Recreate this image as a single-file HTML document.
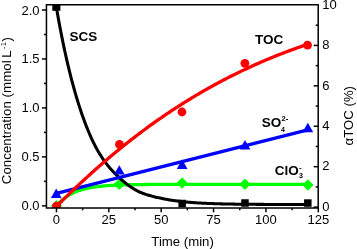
<!DOCTYPE html><html><head><meta charset="utf-8"><style>html,body{margin:0;padding:0;background:#fff;}svg{display:block;}text{font-family:"Liberation Sans",sans-serif;font-size:13px;fill:#000;}</style></head><body><div style="will-change:transform;width:357px;height:249px;">
<svg width="357" height="249" viewBox="0 0 357 249">
<rect width="357" height="249" fill="#fff"/>
<defs><clipPath id="c"><rect x="46.45" y="4.75" width="271.75" height="203.25"/></clipPath></defs>
<g clip-path="url(#c)" fill="none" stroke-width="3.3" stroke-linejoin="round">
<path d="M56.45,205.85 L57.50,204.65 L58.54,203.51 L59.59,202.44 L60.64,201.43 L61.69,200.48 L62.73,199.58 L63.78,198.73 L64.83,197.92 L65.88,197.16 L66.92,196.45 L67.97,195.77 L69.02,195.13 L70.07,194.53 L71.11,193.96 L72.16,193.43 L73.21,192.92 L74.26,192.44 L75.30,191.99 L76.35,191.56 L77.40,191.16 L78.45,190.78 L79.49,190.42 L80.54,190.08 L81.59,189.76 L82.64,189.46 L83.68,189.17 L84.73,188.90 L85.78,188.65 L86.82,188.41 L87.87,188.18 L88.92,187.97 L89.97,187.76 L91.01,187.57 L92.06,187.39 L93.11,187.22 L94.16,187.06 L95.20,186.91 L96.25,186.77 L97.30,186.63 L98.35,186.51 L99.39,186.39 L100.44,186.27 L101.49,186.16 L102.54,186.06 L103.58,185.97 L104.63,185.88 L105.68,185.79 L106.73,185.71 L107.77,185.63 L108.82,185.56 L109.87,185.50 L110.91,185.43 L111.96,185.37 L113.01,185.31 L114.06,185.26 L115.10,185.21 L116.15,185.16 L117.20,185.12 L118.25,185.07 L119.29,185.03 L120.34,184.99 L121.39,184.96 L122.44,184.92 L123.48,184.89 L124.53,184.86 L125.58,184.83 L126.63,184.81 L127.67,184.78 L128.72,184.76 L129.77,184.73 L130.82,184.71 L131.86,184.69 L132.91,184.67 L133.96,184.66 L135.00,184.64 L136.05,184.62 L137.10,184.61 L138.15,184.59 L139.19,184.58 L140.24,184.57 L141.29,184.55 L142.34,184.54 L143.38,184.53 L144.43,184.52 L145.48,184.51 L146.53,184.50 L147.57,184.49 L148.62,184.49 L149.67,184.48 L150.72,184.47 L151.76,184.46 L152.81,184.46 L153.86,184.45 L154.91,184.45 L155.95,184.44 L157.00,184.44 L158.05,184.43 L159.10,184.43 L160.14,184.42 L161.19,184.42 L162.24,184.41 L163.28,184.41 L164.33,184.41 L165.38,184.40 L166.43,184.40 L167.47,184.40 L168.52,184.40 L169.57,184.39 L170.62,184.39 L171.66,184.39 L172.71,184.39 L173.76,184.38 L174.81,184.38 L175.85,184.38 L176.90,184.38 L177.95,184.38 L179.00,184.38 L180.04,184.37 L181.09,184.37 L182.14,184.37 L183.19,184.37 L184.23,184.37 L185.28,184.37 L186.33,184.37 L187.38,184.37 L188.42,184.37 L189.47,184.36 L190.52,184.36 L191.56,184.36 L192.61,184.36 L193.66,184.36 L194.71,184.36 L195.75,184.36 L196.80,184.36 L197.85,184.36 L198.90,184.36 L199.94,184.36 L200.99,184.36 L202.04,184.36 L203.09,184.36 L204.13,184.36 L205.18,184.36 L206.23,184.36 L207.28,184.36 L208.32,184.36 L209.37,184.35 L210.42,184.35 L211.47,184.35 L212.51,184.35 L213.56,184.35 L214.61,184.35 L215.65,184.35 L216.70,184.35 L217.75,184.35 L218.80,184.35 L219.84,184.35 L220.89,184.35 L221.94,184.35 L222.99,184.35 L224.03,184.35 L225.08,184.35 L226.13,184.35 L227.18,184.35 L228.22,184.35 L229.27,184.35 L230.32,184.35 L231.37,184.35 L232.41,184.35 L233.46,184.35 L234.51,184.35 L235.56,184.35 L236.60,184.35 L237.65,184.35 L238.70,184.35 L239.75,184.35 L240.79,184.35 L241.84,184.35 L242.89,184.35 L243.93,184.35 L244.98,184.35 L246.03,184.35 L247.08,184.35 L248.12,184.35 L249.17,184.35 L250.22,184.35 L251.27,184.35 L252.31,184.35 L253.36,184.35 L254.41,184.35 L255.46,184.35 L256.50,184.35 L257.55,184.35 L258.60,184.35 L259.65,184.35 L260.69,184.35 L261.74,184.35 L262.79,184.35 L263.84,184.35 L264.88,184.35 L265.93,184.35 L266.98,184.35 L268.02,184.35 L269.07,184.35 L270.12,184.35 L271.17,184.35 L272.21,184.35 L273.26,184.35 L274.31,184.35 L275.36,184.35 L276.40,184.35 L277.45,184.35 L278.50,184.35 L279.55,184.35 L280.59,184.35 L281.64,184.35 L282.69,184.35 L283.74,184.35 L284.78,184.35 L285.83,184.35 L286.88,184.35 L287.93,184.35 L288.97,184.35 L290.02,184.35 L291.07,184.35 L292.12,184.35 L293.16,184.35 L294.21,184.35 L295.26,184.35 L296.30,184.35 L297.35,184.35 L298.40,184.35 L299.45,184.35 L300.49,184.35 L301.54,184.35 L302.59,184.35 L303.64,184.35 L304.68,184.35 L305.73,184.35 L306.78,184.35 L307.83,184.35" stroke="#00ff00"/>
<path d="M56.45,200.60 L61.60,205.85 L56.45,211.10 L51.30,205.85 Z" fill="#00ff00" stroke="#00ff00" stroke-width="0.9"/>
<path d="M119.29,179.05 L124.44,184.30 L119.29,189.55 L114.14,184.30 Z" fill="#00ff00" stroke="#00ff00" stroke-width="0.9"/>
<path d="M182.14,177.75 L187.29,183.00 L182.14,188.25 L176.99,183.00 Z" fill="#00ff00" stroke="#00ff00" stroke-width="0.9"/>
<path d="M244.98,179.05 L250.13,184.30 L244.98,189.55 L239.83,184.30 Z" fill="#00ff00" stroke="#00ff00" stroke-width="0.9"/>
<path d="M307.83,179.75 L312.98,185.00 L307.83,190.25 L302.68,185.00 Z" fill="#00ff00" stroke="#00ff00" stroke-width="0.9"/>
<path d="M56.45,7.81 L57.50,13.80 L58.54,19.62 L59.59,25.28 L60.64,30.78 L61.69,36.12 L62.73,41.31 L63.78,46.35 L64.83,51.25 L65.88,56.01 L66.92,60.63 L67.97,65.12 L69.02,69.48 L70.07,73.72 L71.11,77.84 L72.16,81.84 L73.21,85.72 L74.26,89.50 L75.30,93.17 L76.35,96.74 L77.40,100.21 L78.45,103.58 L79.49,106.86 L80.54,110.05 L81.59,113.15 L82.64,116.16 L83.68,119.09 L84.73,121.94 L85.78,124.70 L86.82,127.38 L87.87,129.98 L88.92,132.50 L89.97,134.94 L91.01,137.31 L92.06,139.59 L93.11,141.79 L94.16,143.92 L95.20,145.98 L96.25,147.95 L97.30,149.86 L98.35,151.69 L99.39,153.45 L100.44,155.15 L101.49,156.78 L102.54,158.36 L103.58,159.87 L104.63,161.33 L105.68,162.74 L106.73,164.11 L107.77,165.43 L108.82,166.70 L109.87,167.94 L110.91,169.14 L111.96,170.31 L113.01,171.45 L114.06,172.55 L115.10,173.63 L116.15,174.68 L117.20,175.71 L118.25,176.71 L119.29,177.69 L120.34,178.64 L121.39,179.57 L122.44,180.48 L123.48,181.37 L124.53,182.23 L125.58,183.08 L126.63,183.90 L127.67,184.70 L128.72,185.47 L129.77,186.22 L130.82,186.95 L131.86,187.65 L132.91,188.32 L133.96,188.97 L135.00,189.59 L136.05,190.18 L137.10,190.74 L138.15,191.27 L139.19,191.77 L140.24,192.25 L141.29,192.70 L142.34,193.13 L143.38,193.53 L144.43,193.91 L145.48,194.27 L146.53,194.61 L147.57,194.94 L148.62,195.25 L149.67,195.55 L150.72,195.84 L151.76,196.11 L152.81,196.38 L153.86,196.64 L154.91,196.90 L155.95,197.15 L157.00,197.39 L158.05,197.63 L159.10,197.86 L160.14,198.09 L161.19,198.31 L162.24,198.53 L163.28,198.74 L164.33,198.94 L165.38,199.14 L166.43,199.34 L167.47,199.53 L168.52,199.71 L169.57,199.89 L170.62,200.06 L171.66,200.23 L172.71,200.39 L173.76,200.55 L174.81,200.70 L175.85,200.84 L176.90,200.98 L177.95,201.11 L179.00,201.24 L180.04,201.37 L181.09,201.49 L182.14,201.61 L183.19,201.72 L184.23,201.83 L185.28,201.93 L186.33,202.03 L187.38,202.13 L188.42,202.22 L189.47,202.31 L190.52,202.39 L191.56,202.48 L192.61,202.56 L193.66,202.63 L194.71,202.71 L195.75,202.78 L196.80,202.84 L197.85,202.91 L198.90,202.97 L199.94,203.03 L200.99,203.09 L202.04,203.15 L203.09,203.20 L204.13,203.25 L205.18,203.30 L206.23,203.35 L207.28,203.40 L208.32,203.44 L209.37,203.49 L210.42,203.53 L211.47,203.57 L212.51,203.60 L213.56,203.64 L214.61,203.68 L215.65,203.71 L216.70,203.74 L217.75,203.77 L218.80,203.80 L219.84,203.83 L220.89,203.86 L221.94,203.89 L222.99,203.91 L224.03,203.93 L225.08,203.96 L226.13,203.98 L227.18,204.00 L228.22,204.02 L229.27,204.04 L230.32,204.06 L231.37,204.08 L232.41,204.10 L233.46,204.11 L234.51,204.13 L235.56,204.15 L236.60,204.16 L237.65,204.18 L238.70,204.19 L239.75,204.20 L240.79,204.22 L241.84,204.23 L242.89,204.24 L243.93,204.25 L244.98,204.26 L246.03,204.27 L247.08,204.28 L248.12,204.29 L249.17,204.30 L250.22,204.31 L251.27,204.32 L252.31,204.32 L253.36,204.33 L254.41,204.34 L255.46,204.35 L256.50,204.35 L257.55,204.36 L258.60,204.37 L259.65,204.37 L260.69,204.38 L261.74,204.38 L262.79,204.39 L263.84,204.39 L264.88,204.40 L265.93,204.40 L266.98,204.41 L268.02,204.41 L269.07,204.41 L270.12,204.42 L271.17,204.42 L272.21,204.42 L273.26,204.43 L274.31,204.43 L275.36,204.43 L276.40,204.44 L277.45,204.44 L278.50,204.44 L279.55,204.45 L280.59,204.45 L281.64,204.45 L282.69,204.45 L283.74,204.45 L284.78,204.46 L285.83,204.46 L286.88,204.46 L287.93,204.46 L288.97,204.46 L290.02,204.47 L291.07,204.47 L292.12,204.47 L293.16,204.47 L294.21,204.47 L295.26,204.47 L296.30,204.47 L297.35,204.48 L298.40,204.48 L299.45,204.48 L300.49,204.48 L301.54,204.48 L302.59,204.48 L303.64,204.48 L304.68,204.48 L305.73,204.48 L306.78,204.48 L307.83,204.48" stroke="#000" stroke-width="3.05"/>
<rect x="52.3" y="4" width="8.1" height="6.8" fill="#000" stroke="none"/>
<rect x="178.39" y="199.75" width="7.50" height="7.50" fill="#000" stroke="none"/>
<rect x="241.23" y="199.25" width="7.50" height="7.50" fill="#000" stroke="none"/>
<rect x="304.08" y="199.30" width="7.50" height="7.50" fill="#000" stroke="none"/>
<path d="M56.45,193.30 L307.83,129.80" stroke="#0000ff"/>
<path d="M56.24,188.50 L61.64,197.90 L50.84,197.90 Z" fill="#0000ff" stroke="none"/>
<path d="M119.29,165.20 L124.69,174.60 L113.89,174.60 Z" fill="#0000ff" stroke="none"/>
<path d="M182.14,159.60 L187.54,169.00 L176.74,169.00 Z" fill="#0000ff" stroke="none"/>
<path d="M244.98,139.90 L250.38,149.50 L239.58,149.50 Z" fill="#0000ff" stroke="none"/>
<path d="M307.83,122.75 L313.23,132.15 L302.43,132.15 Z" fill="#0000ff" stroke="none"/>
<path d="M56.45,206.40 L57.50,205.36 L58.54,204.32 L59.59,203.28 L60.64,202.25 L61.69,201.22 L62.73,200.19 L63.78,199.16 L64.83,198.14 L65.88,197.12 L66.92,196.10 L67.97,195.08 L69.02,194.07 L70.07,193.06 L71.11,192.06 L72.16,191.05 L73.21,190.05 L74.26,189.06 L75.30,188.06 L76.35,187.07 L77.40,186.08 L78.45,185.10 L79.49,184.12 L80.54,183.14 L81.59,182.16 L82.64,181.19 L83.68,180.22 L84.73,179.26 L85.78,178.30 L86.82,177.34 L87.87,176.38 L88.92,175.43 L89.97,174.48 L91.01,173.53 L92.06,172.59 L93.11,171.65 L94.16,170.72 L95.20,169.78 L96.25,168.85 L97.30,167.93 L98.35,167.01 L99.39,166.09 L100.44,165.17 L101.49,164.26 L102.54,163.35 L103.58,162.44 L104.63,161.54 L105.68,160.64 L106.73,159.75 L107.77,158.86 L108.82,157.97 L109.87,157.08 L110.91,156.20 L111.96,155.32 L113.01,154.45 L114.06,153.57 L115.10,152.71 L116.15,151.84 L117.20,150.98 L118.25,150.12 L119.29,149.26 L120.34,148.41 L121.39,147.56 L122.44,146.72 L123.48,145.88 L124.53,145.04 L125.58,144.20 L126.63,143.37 L127.67,142.54 L128.72,141.72 L129.77,140.90 L130.82,140.08 L131.86,139.26 L132.91,138.45 L133.96,137.64 L135.00,136.84 L136.05,136.04 L137.10,135.24 L138.15,134.44 L139.19,133.65 L140.24,132.86 L141.29,132.07 L142.34,131.29 L143.38,130.51 L144.43,129.74 L145.48,128.96 L146.53,128.20 L147.57,127.43 L148.62,126.67 L149.67,125.91 L150.72,125.15 L151.76,124.40 L152.81,123.65 L153.86,122.90 L154.91,122.16 L155.95,121.41 L157.00,120.68 L158.05,119.94 L159.10,119.21 L160.14,118.48 L161.19,117.76 L162.24,117.04 L163.28,116.32 L164.33,115.60 L165.38,114.89 L166.43,114.18 L167.47,113.48 L168.52,112.77 L169.57,112.07 L170.62,111.38 L171.66,110.68 L172.71,109.99 L173.76,109.30 L174.81,108.62 L175.85,107.94 L176.90,107.26 L177.95,106.58 L179.00,105.91 L180.04,105.24 L181.09,104.58 L182.14,103.91 L183.19,103.25 L184.23,102.60 L185.28,101.94 L186.33,101.29 L187.38,100.64 L188.42,100.00 L189.47,99.36 L190.52,98.72 L191.56,98.08 L192.61,97.45 L193.66,96.82 L194.71,96.19 L195.75,95.56 L196.80,94.94 L197.85,94.32 L198.90,93.71 L199.94,93.09 L200.99,92.48 L202.04,91.88 L203.09,91.27 L204.13,90.67 L205.18,90.07 L206.23,89.48 L207.28,88.88 L208.32,88.29 L209.37,87.71 L210.42,87.12 L211.47,86.54 L212.51,85.96 L213.56,85.39 L214.61,84.81 L215.65,84.24 L216.70,83.68 L217.75,83.11 L218.80,82.55 L219.84,81.99 L220.89,81.43 L221.94,80.88 L222.99,80.33 L224.03,79.78 L225.08,79.24 L226.13,78.69 L227.18,78.15 L228.22,77.62 L229.27,77.08 L230.32,76.55 L231.37,76.02 L232.41,75.50 L233.46,74.97 L234.51,74.45 L235.56,73.93 L236.60,73.42 L237.65,72.90 L238.70,72.39 L239.75,71.89 L240.79,71.38 L241.84,70.88 L242.89,70.38 L243.93,69.88 L244.98,69.39 L246.03,68.90 L247.08,68.41 L248.12,67.92 L249.17,67.44 L250.22,66.95 L251.27,66.47 L252.31,66.00 L253.36,65.52 L254.41,65.05 L255.46,64.58 L256.50,64.12 L257.55,63.65 L258.60,63.19 L259.65,62.73 L260.69,62.28 L261.74,61.82 L262.79,61.37 L263.84,60.92 L264.88,60.48 L265.93,60.04 L266.98,59.59 L268.02,59.16 L269.07,58.72 L270.12,58.28 L271.17,57.85 L272.21,57.42 L273.26,57.00 L274.31,56.57 L275.36,56.15 L276.40,55.73 L277.45,55.32 L278.50,54.90 L279.55,54.49 L280.59,54.08 L281.64,53.67 L282.69,53.27 L283.74,52.86 L284.78,52.46 L285.83,52.07 L286.88,51.67 L287.93,51.28 L288.97,50.89 L290.02,50.50 L291.07,50.11 L292.12,49.73 L293.16,49.34 L294.21,48.97 L295.26,48.59 L296.30,48.21 L297.35,47.84 L298.40,47.47 L299.45,47.10 L300.49,46.74 L301.54,46.37 L302.59,46.01 L303.64,45.65 L304.68,45.29 L305.73,44.94 L306.78,44.59 L307.83,44.24" stroke="#ff0000"/>
<circle cx="56.45" cy="206.10" r="4.4" fill="#ff0000" stroke="none"/>
<circle cx="119.50" cy="144.40" r="4.4" fill="#ff0000" stroke="none"/>
<circle cx="182.00" cy="112.00" r="4.4" fill="#ff0000" stroke="none"/>
<circle cx="244.90" cy="63.30" r="4.4" fill="#ff0000" stroke="none"/>
<circle cx="307.50" cy="45.20" r="4.4" fill="#ff0000" stroke="none"/>
</g>
<g stroke="#000" stroke-width="1.5" fill="none">
<rect x="46.45" y="4.75" width="271.75" height="203.25"/>
<line x1="41.95" y1="205.85" x2="46.45" y2="205.85"/>
<line x1="43.95" y1="181.37" x2="46.45" y2="181.37"/>
<line x1="41.95" y1="156.89" x2="46.45" y2="156.89"/>
<line x1="43.95" y1="132.41" x2="46.45" y2="132.41"/>
<line x1="41.95" y1="107.93" x2="46.45" y2="107.93"/>
<line x1="43.95" y1="83.45" x2="46.45" y2="83.45"/>
<line x1="41.95" y1="58.97" x2="46.45" y2="58.97"/>
<line x1="43.95" y1="34.49" x2="46.45" y2="34.49"/>
<line x1="41.95" y1="10.01" x2="46.45" y2="10.01"/>
<line x1="313.70" y1="207.10" x2="318.20" y2="207.10"/>
<line x1="315.70" y1="186.89" x2="318.20" y2="186.89"/>
<line x1="313.70" y1="166.68" x2="318.20" y2="166.68"/>
<line x1="315.70" y1="146.47" x2="318.20" y2="146.47"/>
<line x1="313.70" y1="126.26" x2="318.20" y2="126.26"/>
<line x1="315.70" y1="106.05" x2="318.20" y2="106.05"/>
<line x1="313.70" y1="85.84" x2="318.20" y2="85.84"/>
<line x1="315.70" y1="65.63" x2="318.20" y2="65.63"/>
<line x1="313.70" y1="45.42" x2="318.20" y2="45.42"/>
<line x1="315.70" y1="25.21" x2="318.20" y2="25.21"/>
<line x1="56.45" y1="208.00" x2="56.45" y2="212.30"/>
<line x1="82.64" y1="208.00" x2="82.64" y2="210.30"/>
<line x1="108.82" y1="208.00" x2="108.82" y2="212.30"/>
<line x1="135.00" y1="208.00" x2="135.00" y2="210.30"/>
<line x1="161.19" y1="208.00" x2="161.19" y2="212.30"/>
<line x1="187.38" y1="208.00" x2="187.38" y2="210.30"/>
<line x1="213.56" y1="208.00" x2="213.56" y2="212.30"/>
<line x1="239.75" y1="208.00" x2="239.75" y2="210.30"/>
<line x1="265.93" y1="208.00" x2="265.93" y2="212.30"/>
<line x1="292.12" y1="208.00" x2="292.12" y2="210.30"/>
<line x1="318.30" y1="208.00" x2="318.30" y2="212.30"/>
</g>
<text x="39.6" y="210.35" text-anchor="end">0.0</text>
<text x="39.6" y="161.39" text-anchor="end">0.5</text>
<text x="39.6" y="112.43" text-anchor="end">1.0</text>
<text x="39.6" y="63.47" text-anchor="end">1.5</text>
<text x="39.6" y="14.51" text-anchor="end">2.0</text>
<text x="322.3" y="210.80">0</text>
<text x="322.3" y="170.38">2</text>
<text x="322.3" y="129.96">4</text>
<text x="322.3" y="89.54">6</text>
<text x="322.3" y="49.12">8</text>
<text x="322.3" y="8.70">10</text>
<text x="56.45" y="224.4" text-anchor="middle">0</text>
<text x="108.82" y="224.4" text-anchor="middle">25</text>
<text x="161.19" y="224.4" text-anchor="middle">50</text>
<text x="213.56" y="224.4" text-anchor="middle">75</text>
<text x="265.93" y="224.4" text-anchor="middle">100</text>
<text x="318.30" y="224.4" text-anchor="middle">125</text>
<text x="182.6" y="245.6" text-anchor="middle" style="font-size:13.2px">Time (min)</text>
<text transform="translate(11.4,184.2) rotate(-90)" style="font-size:13.35px">Concentration (mmol<tspan dx="-1.0"> L</tspan></text>
<text transform="translate(5.9,48.9) rotate(-90)" style="font-size:7px;letter-spacing:0.5px">-1</text>
<text transform="translate(11.4,41.6) rotate(-90)" style="font-size:13.35px">)</text>
<text transform="translate(353.2,145.4) rotate(-90)" style="font-size:13.2px">αTOC (%)</text>
<g font-weight="bold" style="font-size:13.5px">
<text x="69.6" y="40.7" font-weight="bold" style="font-size:13.5px">SCS</text>
<text x="254.9" y="43.7" font-weight="bold" style="font-size:13.5px">TOC</text>
<text x="261.8" y="127" font-weight="bold" style="font-size:13.5px">SO</text>
<text x="281.4" y="120.7" font-weight="bold" style="font-size:7.5px;letter-spacing:0.3px">2-</text>
<text x="281.0" y="131.8" font-weight="bold" style="font-size:7px">4</text>
<text x="274.8" y="174.5" font-weight="bold" style="font-size:13.5px">ClO</text>
<text x="298.9" y="169.6" font-weight="bold" style="font-size:8px">-</text>
<text x="298.9" y="177.9" font-weight="bold" style="font-size:7px">3</text>
</g>
</svg></div></body></html>
